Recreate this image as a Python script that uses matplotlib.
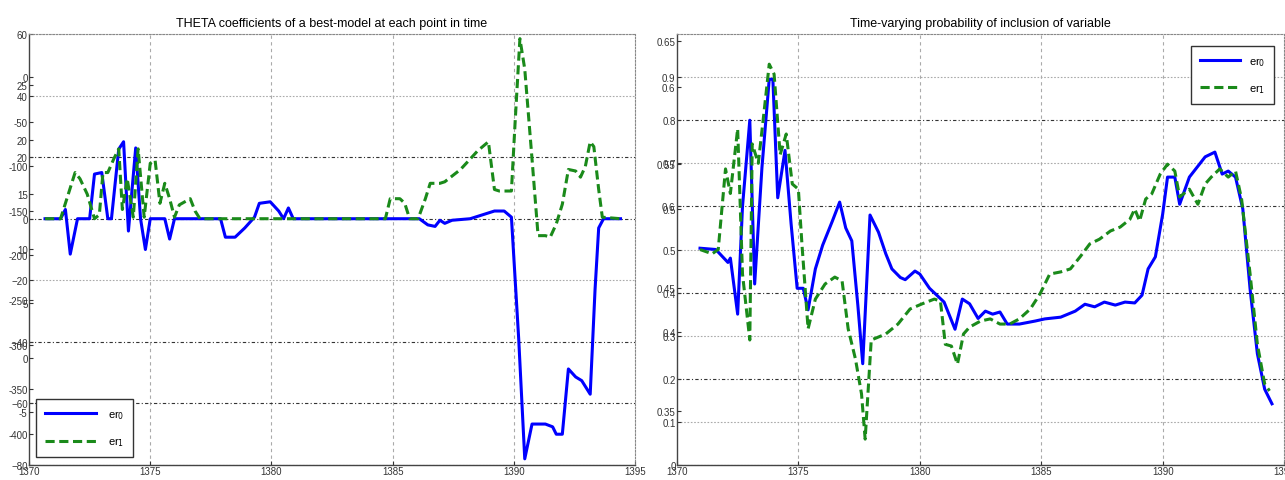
import matplotlib
matplotlib.use("Agg")
import matplotlib.pyplot as plt

plt.rcParams['font.family'] = ['Liberation Sans Narrow', 'Liberation Sans', 'DejaVu Sans']

# left panel: THETA coefficients
theta_year0 = [1370.66, 1371.3, 1371.5, 1371.7, 1372.0, 1372.5, 1372.7, 1373.0, 1373.25, 1373.4,
               1373.7, 1373.9, 1374.1, 1374.4, 1374.6, 1374.8, 1375.0, 1375.6, 1375.8, 1376.0,
               1377.9, 1378.1, 1378.5, 1378.9, 1379.3, 1379.5, 1379.95, 1380.3, 1380.5, 1380.7,
               1380.9, 1386.1, 1386.45, 1386.75, 1386.95, 1387.15, 1387.45, 1388.2, 1388.8, 1389.2,
               1389.6, 1389.9, 1390.2, 1390.45, 1390.75, 1391.3, 1391.6, 1391.75, 1392.0, 1392.25,
               1392.55, 1392.8, 1393.15, 1393.35, 1393.5, 1393.7, 1394.4]
theta_er0 = [0, 0, 3, -11.5, 0, 0, 14.5, 15, 0, 0,
             22.6, 25, -4, 23, 0, -10, 0, 0, -6.6, 0,
             0, -6, -6, -3, 0.5, 5, 5.5, 2.5, 0, 3.5,
             0, 0, -2, -2.5, -0.5, -1.5, -0.5, 0, 1.5, 2.5,
             2.5, 0.5, -39, -78, -66.7, -66.7, -67.6, -70, -70, -48.8,
             -51.4, -52.6, -57, -23, -3, 0, 0]

theta_year1 = [1370.66, 1371.3, 1371.5, 1371.9, 1372.1, 1372.4, 1372.7, 1372.9, 1373.05, 1373.25,
               1373.5, 1373.7, 1373.85, 1374.05, 1374.3, 1374.5, 1374.75, 1375.0, 1375.2, 1375.4,
               1375.6, 1375.8, 1376.0, 1376.2, 1376.65, 1376.85, 1377.05, 1384.7, 1384.9, 1385.3,
               1385.5, 1385.7, 1386.05, 1386.35, 1386.55, 1386.95, 1387.15, 1387.8, 1388.2, 1388.5,
               1388.95, 1389.2, 1389.4, 1389.9, 1390.05, 1390.25, 1390.45, 1390.75, 1391.0, 1391.3,
               1391.5, 1391.75, 1392.0, 1392.25, 1392.55, 1392.75, 1392.95, 1393.15, 1393.3, 1393.5,
               1393.65, 1394.4]
theta_er1 = [0, 0, 5, 15, 13, 8, 0, 1.3, 15, 15,
             19.5, 22.7, 3, 13, 0.5, 22.7, 0.5, 18, 19, 5,
             11.5, 6.5, 0.5, 4.5, 6.5, 2.5, 0, 0, 6.5, 6.5,
             5, 0, 0, 6.5, 11.5, 11.5, 12, 16, 19.4, 22,
             25, 9.5, 9, 9, 31, 58.5, 48.6, 19.4, -5.5, -5.5,
             -6, -1.7, 4.7, 16, 15.5, 13.5, 17, 25, 23.4, 9.5,
             0.5, 0]

# right panel: probability of inclusion
prob_year0 = [1370.95, 1371.6, 1372.1, 1372.2, 1372.5, 1372.7, 1373.0, 1373.2, 1373.5, 1373.8,
              1373.95, 1374.15, 1374.45, 1374.7, 1374.95, 1375.2, 1375.4, 1375.7, 1376.0, 1376.4,
              1376.7, 1376.95, 1377.2, 1377.45, 1377.65, 1377.95, 1378.3, 1378.6, 1378.85, 1379.2,
              1379.4, 1379.8, 1380.0, 1380.4, 1381.0, 1381.45, 1381.75, 1382.05, 1382.4, 1382.7,
              1383.0, 1383.3, 1383.6, 1384.1, 1384.75, 1385.15, 1385.8, 1386.4, 1386.8, 1387.2,
              1387.6, 1388.05, 1388.45, 1388.85, 1389.15, 1389.4, 1389.7, 1390.0, 1390.2, 1390.5,
              1390.7, 1391.1, 1391.75, 1392.15, 1392.45, 1392.7, 1393.0, 1393.3, 1393.6, 1393.9,
              1394.2, 1394.5]
prob_er0 = [0.503, 0.5, 0.47, 0.48, 0.35, 0.6, 0.8, 0.42, 0.69, 0.895,
            0.895, 0.62, 0.73, 0.56, 0.41, 0.41, 0.36, 0.455, 0.51, 0.566,
            0.61, 0.55, 0.52, 0.37, 0.235, 0.58, 0.54, 0.49, 0.455, 0.435,
            0.43, 0.45, 0.443, 0.41, 0.378, 0.315, 0.385, 0.374, 0.34, 0.357,
            0.35, 0.355, 0.327, 0.327, 0.334, 0.339, 0.343, 0.357, 0.373, 0.367,
            0.378, 0.371, 0.378, 0.376, 0.394, 0.455, 0.483, 0.582, 0.668, 0.668,
            0.605, 0.668, 0.715, 0.726, 0.675, 0.682, 0.668, 0.594, 0.408, 0.258,
            0.176, 0.142]

prob_year1 = [1370.95, 1371.45, 1371.7, 1372.0, 1372.2, 1372.5, 1372.7, 1373.0, 1373.1, 1373.35,
              1373.6, 1373.8, 1374.0, 1374.25, 1374.5, 1374.75, 1375.0, 1375.15, 1375.4, 1375.7,
              1376.1, 1376.5, 1376.8, 1377.05, 1377.35, 1377.6, 1377.75, 1378.0, 1378.6, 1379.1,
              1379.6, 1380.1, 1380.6, 1380.85, 1381.05, 1381.3, 1381.55, 1381.8, 1382.05, 1382.5,
              1382.9, 1383.3, 1383.7, 1384.1, 1384.55, 1384.95, 1385.35, 1385.8, 1386.2, 1386.6,
              1387.0, 1387.4, 1387.85, 1388.25, 1388.65, 1388.85, 1389.05, 1389.3, 1389.55, 1389.9,
              1390.2, 1390.5, 1390.7, 1391.1, 1391.45, 1391.75, 1392.0, 1392.35, 1392.7, 1393.0,
              1393.25, 1393.6, 1393.9, 1394.2, 1394.4]
prob_er1 = [0.5, 0.49, 0.5, 0.687, 0.63, 0.78, 0.443, 0.29, 0.745, 0.7,
            0.826, 0.93, 0.907, 0.72, 0.768, 0.652, 0.64, 0.51, 0.316, 0.385,
            0.42, 0.436, 0.427, 0.316, 0.246, 0.165, 0.06, 0.29, 0.304, 0.327,
            0.362, 0.374, 0.385, 0.38, 0.28, 0.276, 0.234, 0.304, 0.32, 0.334,
            0.339, 0.327, 0.327, 0.339, 0.362, 0.397, 0.443, 0.448, 0.455, 0.483,
            0.513, 0.524, 0.543, 0.552, 0.57, 0.594, 0.566, 0.617, 0.629, 0.675,
            0.698, 0.682, 0.622, 0.64, 0.605, 0.652, 0.668, 0.687, 0.668, 0.682,
            0.617, 0.443, 0.28, 0.188, 0.172]

x_ticks = [1370, 1375, 1380, 1385, 1390, 1395]
left_ticks = [60, 40, 20, 0, -20, -40, -60, -80]
left_dark = [20, 0, -40, -60]
left_ticks_a = [0, -50, -100, -150, -200, -250, -300, -350, -400]
left_ticks_c = [25, 20, 15, 10, 5, 0, -5]
right_ticks = [0, 0.1, 0.2, 0.3, 0.4, 0.5, 0.6, 0.7, 0.8, 0.9, 1.0]
right_dark = [0.2, 0.4, 0.6, 0.8]
right_ticks_p = [0.6, 0.5, 0.4]
right_ticks_q = [0.65, 0.55, 0.45, 0.35]

blue = '#0000ff'
green = '#1a8a1a'
tick_fs = 7

fig = plt.figure(figsize=(12.85, 4.81), dpi=100)
ax1 = fig.add_axes([0.0226, 0.0312, 0.4716, 0.896])
ax2 = fig.add_axes([0.5268, 0.0312, 0.4725, 0.896])


def style_axes(ax, yticks, dark, ylim):
    ax.set_xlim(1370, 1395)
    ax.set_ylim(*ylim)
    ax.set_xticks(x_ticks)
    ax.set_yticks(yticks)
    ax.tick_params(labelsize=tick_fs, direction='in', length=3, colors='#333333', pad=1)
    for t in x_ticks[1:-1]:
        ax.axvline(t, color='#aaaaaa', ls=(0, (3, 3)), lw=0.8, zorder=0)
    for t in yticks:
        if t in dark:
            ax.axhline(t, color='#333333', ls=(0, (3, 2, 1, 2)), lw=0.8, zorder=0)
        else:
            ax.axhline(t, color='#aaaaaa', ls=(0, (1.5, 1.5)), lw=0.8, zorder=0)
    for s in ['top', 'right']:
        ax.spines[s].set_linestyle((0, (1.5, 1.5)))
        ax.spines[s].set_color('#888888')
    for s in ['left', 'bottom']:
        ax.spines[s].set_color('#444444')
        ax.spines[s].set_linewidth(1.0)


def overlay_ticks(ax, ticks, ylim, fmt):
    tw = ax.twinx()
    tw.set_ylim(*ylim)
    tw.set_yticks(ticks)
    tw.set_yticklabels([fmt(t) for t in ticks])
    tw.yaxis.set_ticks_position('left')
    tw.yaxis.set_label_position('left')
    tw.tick_params(labelsize=tick_fs, direction='in', length=3, colors='#333333', pad=1)
    for s in tw.spines.values():
        s.set_visible(False)
    return tw


style_axes(ax1, left_ticks, left_dark, (-80, 60))
overlay_ticks(ax1, left_ticks_a, (-435, 48.2), lambda t: '%d' % t)
overlay_ticks(ax1, left_ticks_c, (-9.86, 29.68), lambda t: '%d' % t)
ax1.plot(theta_year0, theta_er0, color=blue, lw=2.2, label='er$_0$', zorder=3)
ax1.plot(theta_year1, theta_er1, color=green, lw=2.2, ls=(0, (3, 1.5)), label='er$_1$', zorder=3)
ax1.set_title('THETA coefficients of a best-model at each point in time', fontsize=9, pad=6)
ax1.legend(loc='lower left', bbox_to_anchor=(0.003, 0.005), fontsize=8, handlelength=4.6,
           fancybox=False, edgecolor='#333333', framealpha=1, borderpad=0.8, labelspacing=1.3,
           handletextpad=1.0)

style_axes(ax2, right_ticks[:-1], right_dark, (0, 1.0))
ax2.set_yticklabels(['0'] + ['%g' % t for t in right_ticks[1:-1]])
overlay_ticks(ax2, right_ticks_p, (0.291, 0.643), lambda t: '%g' % t)
overlay_ticks(ax2, right_ticks_q, (0.3063, 0.6553), lambda t: '%g' % t)
ax2.plot(prob_year0, prob_er0, color=blue, lw=2.2, label='er$_0$', zorder=3)
ax2.plot(prob_year1, prob_er1, color=green, lw=2.2, ls=(0, (3, 1.5)), label='er$_1$', zorder=3)
ax2.set_title('Time-varying probability of inclusion of variable', fontsize=9, pad=6)
ax2.legend(loc='upper right', bbox_to_anchor=(0.993, 0.985), fontsize=8, handlelength=3.6,
           fancybox=False, edgecolor='#333333', framealpha=1, borderpad=0.8, labelspacing=1.3,
           handletextpad=0.8)

fig.savefig('out.png', dpi=100)
